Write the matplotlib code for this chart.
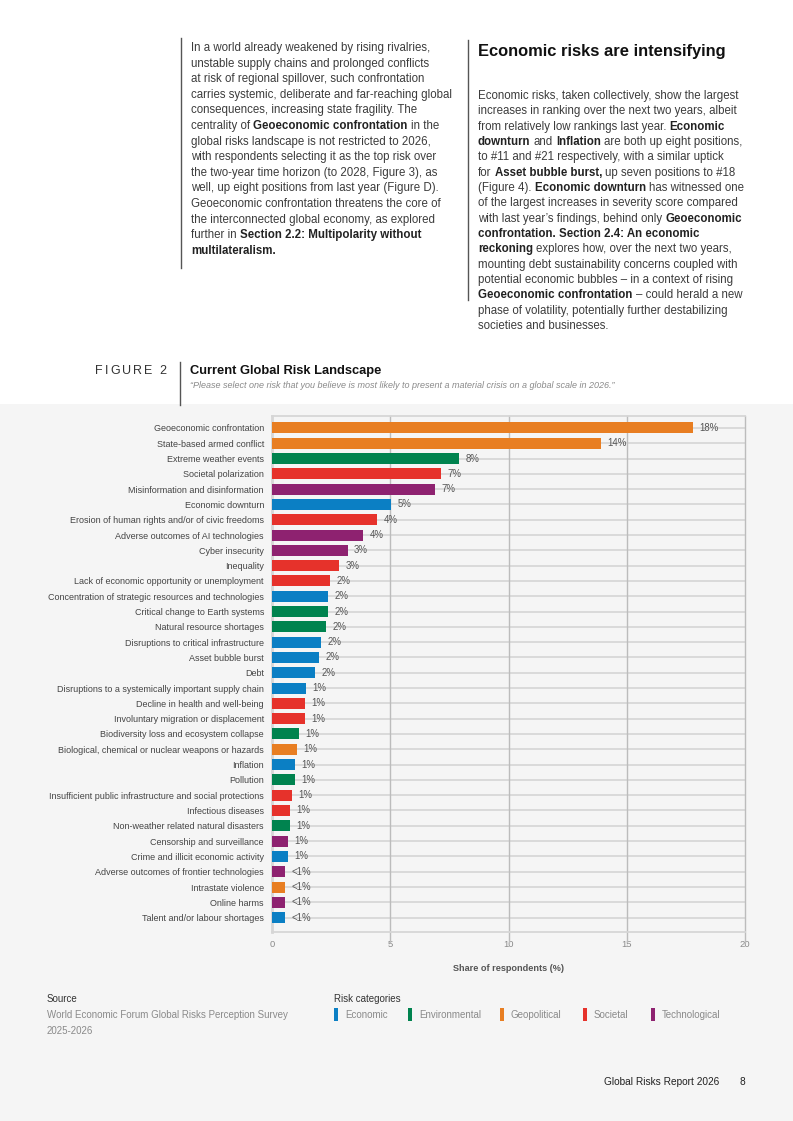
import matplotlib
matplotlib.use("Agg")
import matplotlib.pyplot as plt
from matplotlib.patches import Rectangle
from matplotlib.lines import Line2D
import numpy as np

plt.rcParams['font.family'] = ['Liberation Sans', 'DejaVu Sans']

# ---------------- data ----------------
risks = [
    "Geoeconomic confrontation", "State-based armed conflict", "Extreme weather events",
    "Societal polarization", "Misinformation and disinformation", "Economic downturn",
    "Erosion of human rights and/or of civic freedoms", "Adverse outcomes of AI technologies",
    "Cyber insecurity", "Inequality", "Lack of economic opportunity or unemployment",
    "Concentration of strategic resources and technologies", "Critical change to Earth systems",
    "Natural resource shortages", "Disruptions to critical infrastructure", "Asset bubble burst",
    "Debt", "Disruptions to a systemically important supply chain", "Decline in health and well-being",
    "Involuntary migration or displacement", "Biodiversity loss and ecosystem collapse",
    "Biological, chemical or nuclear weapons or hazards", "Inflation", "Pollution",
    "Insufficient public infrastructure and social protections", "Infectious diseases",
    "Non-weather related natural disasters", "Censorship and surveillance",
    "Crime and illicit economic activity", "Adverse outcomes of frontier technologies",
    "Intrastate violence", "Online harms", "Talent and/or labour shortages",
]
values = [17.8, 13.9, 7.9, 7.15, 6.9, 5.05, 4.45, 3.85, 3.2, 2.85, 2.45, 2.37, 2.37, 2.28,
          2.07, 1.99, 1.82, 1.44, 1.40, 1.40, 1.15, 1.07, 0.98, 0.98, 0.85, 0.76, 0.76,
          0.68, 0.68, 0.55, 0.55, 0.55, 0.55]
value_labels = ["18%", "14%", "8%", "7%", "7%", "5%", "4%", "4%", "3%", "3%", "2%", "2%", "2%",
                "2%", "2%", "2%", "2%", "1%", "1%", "1%", "1%", "1%", "1%", "1%", "1%", "1%",
                "1%", "1%", "1%", "<1%", "<1%", "<1%", "<1%"]
risk_categories = [
    "Geopolitical", "Geopolitical", "Environmental", "Societal", "Technological", "Economic",
    "Societal", "Technological", "Technological", "Societal", "Societal", "Economic",
    "Environmental", "Environmental", "Economic", "Economic", "Economic", "Economic",
    "Societal", "Societal", "Environmental", "Geopolitical", "Economic", "Environmental",
    "Societal", "Societal", "Environmental", "Technological", "Economic", "Technological",
    "Geopolitical", "Technological", "Economic",
]
category_names = ["Economic", "Environmental", "Geopolitical", "Societal", "Technological"]
category_colors = ["#0b7fc4", "#00834f", "#e87e22", "#e6322b", "#8e2270"]
x_ticks = [0, 5, 10, 15, 20]

left_text = [
    "In a world already weakened by rising rivalries,",
    "unstable supply chains and prolonged conflicts",
    "at risk of regional spillover, such confrontation",
    "carries systemic, deliberate and far-reaching global",
    "consequences, increasing state fragility. The",
    "centrality of **Geoeconomic confrontation** in the",
    "global risks landscape is not restricted to 2026,",
    "with respondents selecting it as the top risk over",
    "the two-year time horizon (to 2028, Figure 3), as",
    "well, up eight positions from last year (Figure D).",
    "Geoeconomic confrontation threatens the core of",
    "the interconnected global economy, as explored",
    "further in **Section 2.2: Multipolarity without**",
    "**multilateralism.**",
]
right_text = [
    "Economic risks, taken collectively, show the largest",
    "increases in ranking over the next two years, albeit",
    "from relatively low rankings last year. **Economic**",
    "**downturn** and **Inflation** are both up eight positions,",
    "to #11 and #21 respectively, with a similar uptick",
    "for **Asset bubble burst,** up seven positions to #18",
    "(Figure 4). **Economic downturn** has witnessed one",
    "of the largest increases in severity score compared",
    "with last year\u2019s findings, behind only **Geoeconomic**",
    "**confrontation. Section 2.4: An economic**",
    "**reckoning** explores how, over the next two years,",
    "mounting debt sustainability concerns coupled with",
    "potential economic bubbles \u2013 in a context of rising",
    "**Geoeconomic confrontation** \u2013 could herald a new",
    "phase of volatility, potentially further destabilizing",
    "societies and businesses.",
]

# ---------------- figure ----------------
W, H = 793, 1121
fig = plt.figure(figsize=(W / 100, H / 100), dpi=100)
fig.patch.set_facecolor("white")
renderer = fig.canvas.get_renderer()


def fx(x):
    return x / W


def fy(y):
    return 1 - y / H


fig.patches.append(Rectangle((0, 0), 1, fy(404), transform=fig.transFigure,
                             facecolor="#f5f5f5", edgecolor="none", zorder=-10))


def vline(x, y0, y1, color="#555555", lw=1.0):
    fig.add_artist(Line2D([fx(x), fx(x)], [fy(y0), fy(y1)], transform=fig.transFigure,
                          color=color, lw=lw))


def width_of(s, size, weight, style="normal"):
    t = fig.text(0, 0, s, fontsize=size, fontweight=weight, fontstyle=style)
    w = t.get_window_extent(renderer).width
    t.remove()
    return w


def advance(s, size, weight):
    # advance width of s, including spaces
    return width_of("n" + s + "n", size, weight) - width_of("nn", size, weight)


def draw_rich(x, y, line, size, color="#3c3c3c", bold_color="#222222"):
    parts = line.split("**")
    cx = x
    for i, s in enumerate(parts):
        if not s:
            continue
        b = (i % 2 == 1)
        w = "bold" if b else "normal"
        lead = s[:len(s) - len(s.lstrip(" "))]
        core = s.strip(" ")
        if core:
            start = cx + (advance(lead, size, w) if lead else 0)
            fig.text(fx(start), fy(y), core, fontsize=size, fontweight=w,
                     color=bold_color if b else color, ha="left", va="baseline")
        cx += advance(s, size, w)


# top text columns
vline(181, 38, 268)
vline(468, 40, 300)
body_size = 8.3
for i, line in enumerate(left_text):
    draw_rich(191, 51 + i * 15.6, line, body_size)

fig.text(fx(478), fy(56), "Economic risks are intensifying", fontsize=11.9, fontweight="bold",
         color="#111111", ha="left", va="baseline")
for i, line in enumerate(right_text):
    draw_rich(478, 99 + i * 15.33, line, body_size)

# figure header
vline(180, 362, 405)
cx = 95
for ch in "FIGURE 2":
    fig.text(fx(cx), fy(374), ch, fontsize=9, color="#333333", ha="left", va="baseline")
    cx += advance(ch, 9, "normal") + 2.0
fig.text(fx(190), fy(374.5), "Current Global Risk Landscape", fontsize=9.3, fontweight="bold",
         color="#111111", ha="left", va="baseline")
fig.text(fx(190), fy(388.5),
         "\u201cPlease select one risk that you believe is most likely to present a material crisis on a global scale in 2026.\u201d",
         fontsize=6.45, fontstyle="italic", color="#8a8a8a", ha="left", va="baseline")

# ---------------- chart ----------------
ax = fig.add_axes([fx(272), fy(932), fx(745) - fx(272), (932 - 415.7) / H])
ax.set_facecolor("#f5f5f5")
color_map = dict(zip(category_names, category_colors))
ypos = np.arange(len(risks))
for y in ypos:
    ax.axhline(y, color="#dadada", lw=1.4, zorder=1)
ax.barh(ypos, values, height=0.72, color=[color_map[c] for c in risk_categories], zorder=3)
ax.set_xlim(0, 20)
ax.set_ylim(32.94, -0.8)
for xt in x_ticks[1:]:
    ax.axvline(xt, ymin=-10 / 516, ymax=1, color="#bcbcbc", lw=1.0, zorder=2, clip_on=False)
for side in ["top", "bottom"]:
    ax.spines[side].set_color("#d6d6d6")
    ax.spines[side].set_linewidth(1.3)
ax.spines["left"].set_color("#d6d6d6")
ax.spines["left"].set_linewidth(2.0)
ax.spines["right"].set_visible(False)
ax.set_yticks(ypos)
ax.set_yticklabels(risks)
ax.set_xticks(x_ticks)
ax.set_xticklabels([str(t) for t in x_ticks])
ax.tick_params(axis="y", length=0, pad=5.8, labelsize=6.5, labelcolor="#444444")
ax.tick_params(axis="x", length=0, pad=6.0, labelsize=6.8, labelcolor="#8a8a8a")
for y, v, lab in zip(ypos, values, value_labels):
    ax.annotate(lab, (v, y), xytext=(4.6, 0), textcoords="offset points", ha="left",
                va="center", fontsize=6.9, color="#555555", zorder=4)
ax.set_xlabel("Share of respondents (%)", fontsize=6.6, fontweight="bold", color="#555555",
              labelpad=10.5)

# ---------------- footer / legend ----------------
fig.text(fx(47), fy(1002), "Source", fontsize=7.0, color="#333333", ha="left", va="baseline")
fig.text(fx(47), fy(1018), "World Economic Forum Global Risks Perception Survey", fontsize=7.0,
         color="#8a8a8a", ha="left", va="baseline")
fig.text(fx(47), fy(1034), "2025-2026", fontsize=7.0, color="#8a8a8a", ha="left", va="baseline")

fig.text(fx(334), fy(1002), "Risk categories", fontsize=7.0, color="#333333", ha="left", va="baseline")
legend_x = [334, 408, 500, 583, 651]
for lx, name, col in zip(legend_x, category_names, category_colors):
    fig.patches.append(Rectangle((fx(lx), fy(1021)), 4 / W, 13 / H, transform=fig.transFigure,
                                 facecolor=col, edgecolor="none"))
    fig.text(fx(lx + 11), fy(1018), name, fontsize=7.0, color="#8a8a8a", ha="left", va="baseline")

fig.text(fx(604), fy(1085), "Global Risks Report 2026", fontsize=7.3, color="#222222",
         ha="left", va="baseline")
fig.text(fx(739), fy(1085), "8", fontsize=7.3, color="#222222", ha="left", va="baseline")

fig.savefig("out.png", dpi=100)
